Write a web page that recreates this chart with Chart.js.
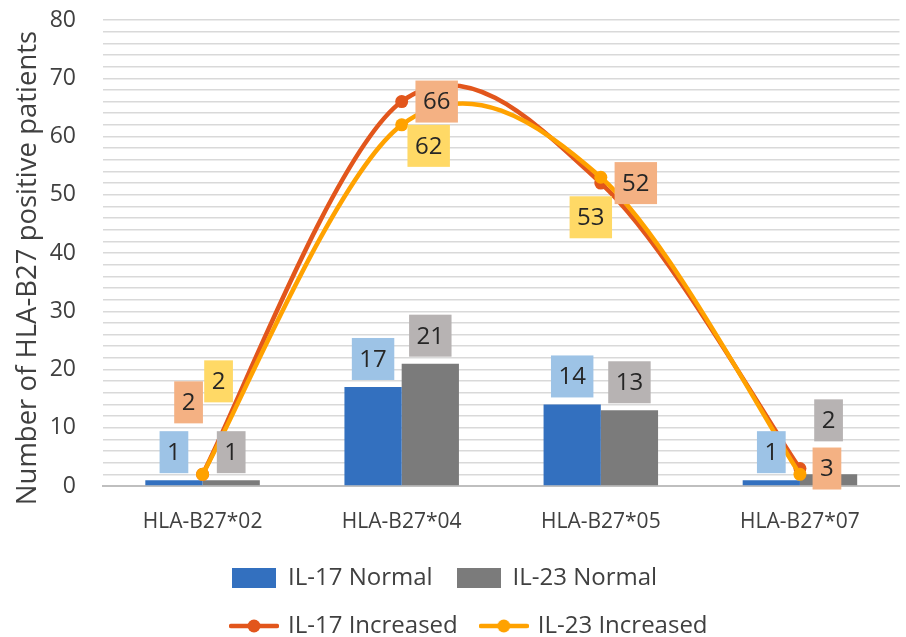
<!DOCTYPE html>
<html>
<head>
<meta charset="utf-8">
<script src="https://cdn.jsdelivr.net/npm/chart.js@4.4.1/dist/chart.umd.min.js"></script>
<style>
  html, body { margin: 0; padding: 0; background: #fff; }
  #wrap { width: 906px; height: 637px; }
</style>
</head>
<body>
<div id="wrap"><canvas id="chart" width="906" height="637"></canvas></div>
<script>
// values
const categories = ["HLA-B27*02", "HLA-B27*04", "HLA-B27*05", "HLA-B27*07"];
const il17Normal = [1, 17, 14, 1];
const il23Normal = [1, 21, 13, 2];
const il17Increased = [2, 66, 52, 3];
const il23Increased = [2, 62, 53, 2];
const yTickLabels = [0, 10, 20, 30, 40, 50, 60, 70, 80];

const blue = "#3370BF", gray = "#7B7B7B", red = "#E2561C", yellow = "#FFA200";
const labelFills = ["#9DC3E6", "#B7B3B3", "#F4B183", "#FFD966"];
// where each value box sits relative to its bar top / point (px); null = not shown
const labelOffsets = [
    [[0, -28], [0, -28], [0, -28], [0, -28]],
    [[0, -28], [0, -28], [0, -28], [0, -54]],
    [[-14, -72], [35, 0], [35, 0], [27, 0]],
    [[16, -93], [27, 21], [-10, 40], null],
];

function rectIcon(color) {
    const c = document.createElement("canvas");
    c.width = 44; c.height = 20;
    const g = c.getContext("2d");
    g.fillStyle = color;
    g.fillRect(0, 0, 44, 20);
    return c;
}
function lineIcon(color) {
    const c = document.createElement("canvas");
    c.width = 50; c.height = 16;
    const g = c.getContext("2d");
    g.strokeStyle = color; g.lineWidth = 4.5; g.lineCap = "round";
    g.beginPath(); g.moveTo(2, 8); g.lineTo(48, 8); g.stroke();
    g.fillStyle = color;
    g.beginPath(); g.arc(25, 8, 6.5, 0, Math.PI * 2); g.fill();
    return c;
}
const legendIcons = [rectIcon(blue), rectIcon(gray), lineIcon(red), lineIcon(yellow)];

// Excel-like smoothing: uniform Catmull-Rom control points (1/6 of the neighbour chord)
const excelSmooth = {
    id: "excelSmooth",
    beforeDatasetDraw(chart, args) {
        const meta = args.meta;
        if (meta.type !== "line" || !meta.dataset) return;
        meta.dataset.updateControlPoints(chart.chartArea, "x");
        const pts = meta.data;
        const n = pts.length;
        pts.forEach((p, i) => {
            const prev = pts[Math.max(i - 1, 0)], next = pts[Math.min(i + 1, n - 1)];
            const dx = (next.x - prev.x) / 6, dy = (next.y - prev.y) / 6;
            p.cp1x = p.x - dx; p.cp1y = p.y - dy;
            p.cp2x = p.x + dx; p.cp2y = p.y + dy;
        });
        delete meta.dataset._path;
    }
};

const boxLabels = {
    id: "boxLabels",
    afterDatasetsDraw(chart) {
        const ctx = chart.ctx;
        ctx.save();
        ctx.font = '24px "Open Sans"';
        ctx.textAlign = "center";
        ctx.textBaseline = "middle";
        chart.data.datasets.forEach((ds, i) => {
            chart.getDatasetMeta(i).data.forEach((el, j) => {
                const off = labelOffsets[i][j];
                if (!off) return;
                const txt = String(ds.data[j]);
                const w = ctx.measureText(txt).width + 15, h = 42;
                const cx = el.x + off[0], cy = el.y + off[1];
                ctx.fillStyle = labelFills[i];
                ctx.fillRect(cx - w / 2, cy - h / 2, w, h);
                ctx.fillStyle = "#262626";
                ctx.fillText(txt, cx, cy + 1);
            });
        });
        ctx.restore();
    }
};

// two legend rows, columns starting at the same x; axis title nudged down a bit
const layoutTweaks = {
    id: "layoutTweaks",
    beforeLayout(chart) {
        const lg = chart.legend;
        if (!lg || lg._rowsPatched) return;
        const fit = lg.fit;
        lg.fit = function () {
            const full = this.maxWidth;
            this.maxWidth = 600;
            fit.call(this);
            this.maxWidth = full;
        };
        lg._rowsPatched = true;
    },
    afterLayout(chart) {
        chart.legend.left = 208;
        chart.legend.right = 808;
        chart.scales.y.bottom += 30;
    }
};

new Chart(document.getElementById("chart"), {
    type: "bar",
    data: {
        labels: categories,
        datasets: [
            { label: "IL-17 Normal", data: il17Normal, backgroundColor: blue, order: 3,
              barPercentage: 1, categoryPercentage: 0.575 },
            { label: "IL-23 Normal", data: il23Normal, backgroundColor: gray, order: 4,
              barPercentage: 1, categoryPercentage: 0.575 },
            { type: "line", label: "IL-17 Increased", data: il17Increased, borderColor: red,
              backgroundColor: red, borderWidth: 4.5, tension: 0.4, pointRadius: 6.5,
              pointBorderWidth: 0, order: 2, clip: false },
            { type: "line", label: "IL-23 Increased", data: il23Increased, borderColor: yellow,
              backgroundColor: yellow, borderWidth: 4.5, tension: 0.4, pointRadius: 6.5,
              pointBorderWidth: 0, order: 1, clip: false },
        ],
    },
    options: {
        responsive: false,
        animation: false,
        events: [],
        layout: { padding: { top: 20, right: -10, bottom: -11, left: 0 } },
        scales: {
            x: {
                grid: { display: false, drawTicks: false },
                border: { color: "#BFBFBF", width: 2 },
                ticks: { color: "#404040", padding: 23, maxRotation: 0,
                         font: { family: '"Open Sans"', size: 21 } },
                afterFit: (s) => { s.height = 56; },
            },
            y: {
                min: 0, max: 80,
                border: { display: false },
                grid: { drawTicks: true, tickLength: 27, tickColor: "rgba(0,0,0,0)", lineWidth: 1.5,
                        color: (c) => (c.tick && c.tick.value === 0 ? "#BFBFBF" : "#D9D9D9") },
                ticks: {
                    stepSize: 2, autoSkip: false, padding: 0, color: "#404040",
                    font: { family: '"Open Sans"', size: 23 },
                    callback: (v) => (yTickLabels.includes(v) ? String(v) : ""),
                },
                title: {
                    display: true, text: "Number of HLA-B27 positive patients",
                    color: "#404040", font: { family: '"Open Sans"', size: 27.5 },
                    padding: { top: 12, bottom: 0 },
                },
                afterFit: (s) => { s.width = 103; },
            },
        },
        plugins: {
            tooltip: { enabled: false },
            legend: {
                position: "bottom",
                align: "start",
                labels: {
                    usePointStyle: true, pointStyleWidth: 44, padding: 24, color: "#404040",
                    font: { family: '"Open Sans"', size: 24 },
                    generateLabels: (chart) => chart.data.datasets.map((ds, i) => ({
                        text: ds.label, fillStyle: ds.backgroundColor, strokeStyle: ds.backgroundColor,
                        lineWidth: 0, pointStyle: legendIcons[i], hidden: false, datasetIndex: i,
                        fontColor: "#404040",
                    })),
                },
            },
        },
    },
    plugins: [excelSmooth, boxLabels, layoutTweaks],
});
</script>
</body>
</html>
